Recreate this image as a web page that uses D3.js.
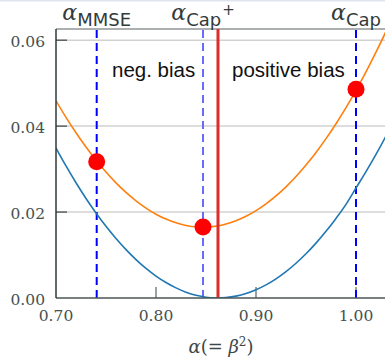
<!DOCTYPE html>
<html><head><meta charset="utf-8">
<script src="https://cdn.jsdelivr.net/npm/d3@7"></script>
<style>body{margin:0;background:#fff;}svg{display:block;}</style>
</head><body>
<svg id="c" width="385" height="361"></svg>
<script>
const alphaGrid = [0.70,0.71,0.72,0.73,0.74,0.75,0.76,0.77,0.78,0.79,0.80,0.81,0.82,0.83,0.84,0.85,0.86,0.862,0.87,0.88,0.89,0.90,0.91,0.92,0.93,0.94,0.95,0.96,0.97,0.98,0.99,1.00,1.01,1.02,1.03,1.04];
const blueValues = [0.03490,0.03073,0.02682,0.02317,0.01980,0.01668,0.01384,0.01126,0.00894,0.00689,0.00511,0.00360,0.00235,0.00136,0.00064,0.00019,0.00001,0.0,0.00009,0.00043,0.00104,0.00192,0.00306,0.00447,0.00615,0.00809,0.01030,0.01277,0.01551,0.01852,0.02179,0.02560,0.02940,0.03340,0.03770,0.04230];
const orangeValues = [0.04589,0.04203,0.03844,0.03512,0.03207,0.02930,0.02679,0.02456,0.02261,0.02092,0.01950,0.01836,0.01749,0.01689,0.01657,0.01651,0.01673,0.01679,0.01722,0.01798,0.01901,0.02032,0.02190,0.02375,0.02587,0.02826,0.03093,0.03387,0.03708,0.04056,0.04431,0.04834,0.05263,0.05720,0.06205,0.06716];
const markerAlpha = [0.7407, 0.847, 1.0];
const markerValue = [0.0317, 0.0165, 0.0486];
const dashedAlpha = [0.7407, 0.847, 1.0];
const dashedColor = ["#0000ff", "#6a6aff", "#0000ff"];
const redAlpha = 0.862;
const topLabelSub = ["MMSE", "Cap", "Cap"];
const topLabelSup = ["", "+", ""];
const yTicks = [0.00, 0.02, 0.04, 0.06];
const yTickLabels = ["0.00", "0.02", "0.04", "0.06"];
const xTicks = [0.70, 0.80, 0.90, 1.00];
const xTickLabels = ["0.70", "0.80", "0.90", "1.00"];
const regionLabels = ["neg. bias", "positive bias"];

const svg = d3.select("#c");
const x = d3.scaleLinear().domain([0.70, 1.03]).range([56, 386]);
const y = d3.scaleLinear().domain([0, 0.0626]).range([298, 29]);

svg.append("line").attr("x1",0).attr("x2",385).attr("y1",0.5).attr("y2",0.5).attr("stroke","#dfe4ee").attr("stroke-width",2);

svg.append("defs").append("clipPath").attr("id","clip")
  .append("rect").attr("x",56).attr("y",29).attr("width",330).attr("height",269);

// grid
svg.append("g").selectAll("line").data(yTicks.slice(1)).join("line")
  .attr("x1",56).attr("x2",386).attr("y1",d=>y(d)).attr("y2",d=>y(d))
  .attr("stroke","#d2d2d2").attr("stroke-width",1.5);

// top frame
svg.append("line").attr("x1",56).attr("x2",386).attr("y1",29).attr("y2",29).attr("stroke","#5a6262").attr("stroke-width",1.2);

// y tick marks
svg.append("g").selectAll("line").data(yTicks.slice(1)).join("line")
  .attr("x1",56).attr("x2",67).attr("y1",d=>y(d)).attr("y2",d=>y(d))
  .attr("stroke","#3a4545").attr("stroke-width",1.2);
// x tick marks
svg.append("g").selectAll("line").data(xTicks.slice(1)).join("line")
  .attr("x1",d=>x(d)).attr("x2",d=>x(d)).attr("y1",298).attr("y2",287)
  .attr("stroke","#5a6262").attr("stroke-width",1.2);

// dashed lines
svg.append("g").selectAll("line").data(dashedAlpha).join("line")
  .attr("x1",d=>x(d)).attr("x2",d=>x(d)).attr("y1",30).attr("y2",298)
  .attr("stroke",(d,i)=>dashedColor[i]).attr("stroke-width",2).attr("stroke-dasharray","8,5");

const line = d3.line().x(d=>x(d[0])).y(d=>y(d[1])).curve(d3.curveMonotoneX);
const g = svg.append("g").attr("clip-path","url(#clip)");
g.append("path").datum(alphaGrid.map((a,i)=>[a,blueValues[i]]))
  .attr("d",line).attr("fill","none").attr("stroke","#1f77b4").attr("stroke-width",1.6);
g.append("path").datum(alphaGrid.map((a,i)=>[a,orangeValues[i]]))
  .attr("d",line).attr("fill","none").attr("stroke","#ff7f0e").attr("stroke-width",1.6);

// red line
svg.append("line").attr("x1",x(redAlpha)).attr("x2",x(redAlpha)).attr("y1",29).attr("y2",298)
  .attr("stroke","#dc2d2a").attr("stroke-width",3);

// axes lines
svg.append("line").attr("x1",56).attr("x2",386).attr("y1",298).attr("y2",298).attr("stroke","#4a5555").attr("stroke-width",1.5);
svg.append("line").attr("x1",56).attr("x2",56).attr("y1",29).attr("y2",298).attr("stroke","#2c3a3a").attr("stroke-width",1.5);

// markers
svg.append("g").selectAll("circle").data(markerAlpha).join("circle")
  .attr("cx",d=>x(d)).attr("cy",(d,i)=>y(markerValue[i])).attr("r",8.5).attr("fill","#ff0000");

// tick labels
svg.append("g").selectAll("text").data(yTicks).join("text")
  .attr("x",45).attr("y",d=>y(d)+6.5).attr("text-anchor","end")
  .attr("font-family","DejaVu Serif").attr("font-size",15.5).attr("fill","#465050")
  .text((d,i)=>yTickLabels[i]);
svg.append("g").selectAll("text").data(xTicks).join("text")
  .attr("x",d=>x(d)).attr("y",321).attr("text-anchor","middle")
  .attr("font-family","DejaVu Serif").attr("font-size",15.5).attr("fill","#465050")
  .text((d,i)=>xTickLabels[i]);

// top labels
const tl = svg.append("g").selectAll("text").data(dashedAlpha).join("text")
  .attr("x",d=>x(d)).attr("y",20).attr("text-anchor","middle").attr("fill","#333b3b");
tl.append("tspan").attr("font-family","DejaVu Serif").attr("font-style","italic").attr("font-size",22).text("α");
tl.append("tspan").attr("font-family","DejaVu Sans").attr("font-size",18).attr("dy",6).text((d,i)=>topLabelSub[i]);
tl.append("tspan").attr("font-family","DejaVu Sans").attr("font-size",15).attr("dy",-11).attr("dx",1).text((d,i)=>topLabelSup[i]);

// region labels
svg.append("text").attr("x",112).attr("y",77).attr("font-family","Liberation Sans").attr("font-size",20.5).attr("fill","#111").text(regionLabels[0]);
svg.append("text").attr("x",232).attr("y",77).attr("font-family","Liberation Sans").attr("font-size",20.5).attr("fill","#111").text(regionLabels[1]);

// x title
const xt = svg.append("text").attr("x",221).attr("y",353).attr("text-anchor","middle")
  .attr("font-family","DejaVu Serif").attr("font-size",18).attr("fill","#3e4848");
xt.append("tspan").attr("font-style","italic").text("α");
xt.append("tspan").text("(= ");
xt.append("tspan").attr("font-style","italic").text("β");
xt.append("tspan").attr("font-size",12).attr("dy",-7).text("2");
xt.append("tspan").attr("dy",7).text(")");
</script>
</body></html>
